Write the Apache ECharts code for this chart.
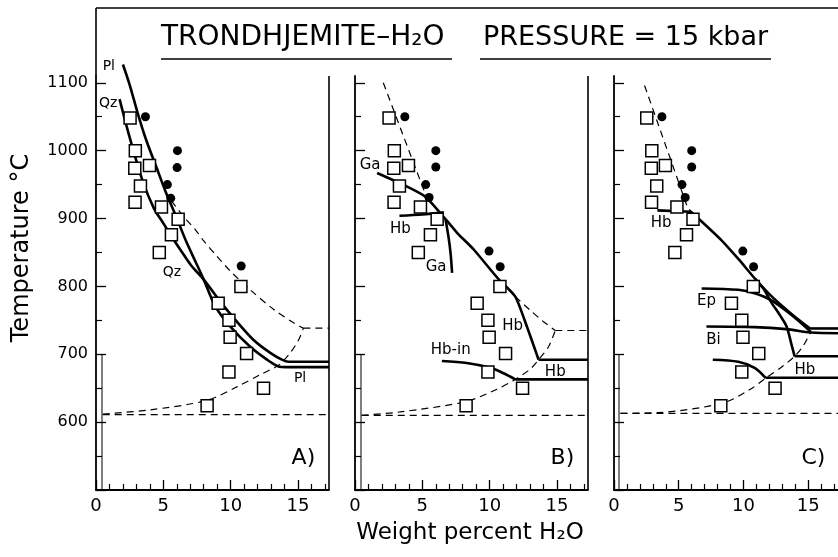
<!DOCTYPE html>
<html lang="en">
<head>
<meta charset="utf-8">
<title>Trondhjemite-H2O 15 kbar</title>
<script src="https://cdn.jsdelivr.net/npm/echarts@6/dist/echarts.min.js"></script>
<style>html,body{margin:0;padding:0;background:#fff}</style>
</head>
<body>
<div id="main" style="width:838px;height:557px;"></div>
<script>
// run results, same in all three panels (wt% H2O, deg C)
var squares = [[2.53,1048],[2.92,1000],[2.88,974],[3.97,978],[3.3,948],[2.9,924],[4.86,917],[6.1,899],
  [5.6,876],[4.7,850],[10.76,800],[9.07,775],[9.87,750],[9.96,725],[11.18,701],[9.87,674],[12.44,650],[8.25,624]];
var dotsA = [[3.67,1050],[6.05,1000],[6.02,975],[5.3,950],[5.55,930],[10.78,830]];
var dotsBC = [[3.7,1050],[6.0,1000],[6.0,976],[5.25,950],[5.5,931],[9.95,852],[10.78,829]];

// A) solid curves
var plA = [[2.0,1127],[2.5,1097],[3.1,1055],[3.72,1016],[4.46,977],[5.2,938],[5.95,903],[6.7,866],[7.4,836],
  [8.0,810],[8.85,771],[9.96,741],[11.45,711],[12.7,692],[13.55,682],[14.1,681],[17.3,681]];
var qzA = [[1.75,1076],[2.48,1021],[3.47,955],[4.3,915],[5.0,893],[5.6,874],[6.3,853],[7.1,830],[8.0,810],
  [9.22,778],[10.33,751],[11.7,721],[12.94,702],[13.8,692],[14.3,689],[17.3,689]];
// A) dashed curves
var vapA = [[5.6,926],[6.5,903],[7.4,883],[8.0,867],[9.0,844],[10.0,822],[11.45,795],[13.2,766],[14.7,746],[15.4,738.5]];
var vapTailA = [[15.4,738.5],[17.3,738.5]];
var solA = [[0.5,612],[4.0,618],[8.23,632],[10.46,652],[12.2,670],[13.56,684],[14.42,702],[15.04,721],[15.4,738.5]];
var baseA = [[0.5,611],[17.3,611]];

// B) solid curves
var mainB = [[1.64,967],[3.87,947],[5.23,932],[6.72,899],[7.58,879],[8.83,854],[10.6,812],[11.9,785],[12.76,741],[13.63,692]];
var mainTailB = [[13.63,692],[17.3,692]];
var hbShortB = [[3.3,904],[5.0,906],[6.6,909]];
var gaB = [[6.72,899],[6.95,872],[7.1,848],[7.21,820]];
var hbInB = [[6.45,690],[8.3,687],[10.04,680],[11.03,672],[11.9,663]];
var hbInTailB = [[11.9,663],[17.3,663]];
// B) dashed curves
var steepB = [[2.1,1100],[5.3,932]];
var vapB = [[11.9,785],[13.0,765],[14.0,748],[14.87,735]];
var vapTailB = [[14.87,735],[17.3,735]];
var solB = [[0.5,610],[3.35,615],[8.18,630],[10.5,648],[11.9,663],[13.0,678],[13.63,692],[14.37,711],[14.87,735]];
var baseB = [[0.5,610],[17.3,610]];

// C) solid curves
var hbShortC = [[3.35,912],[5.95,910]];
var mainC = [[5.95,910],[8.25,869],[9.67,839],[10.86,812],[12.3,783],[13.8,758],[15.2,737]];
var mainTailC = [[15.2,738],[17.3,738]];
var hbC = [[10.9,811],[11.6,795],[12.1,778],[12.8,758],[13.33,741],[13.7,715],[13.95,697]];
var hbTailC = [[13.95,697],[17.3,697]];
var epC = [[6.77,797],[9.6,795],[10.86,790],[12.1,780],[13.83,756],[15.2,733]];
var biC = [[7.14,741],[10.86,740],[13.3,737],[15.2,732],[17.3,731]];
var hbInC = [[7.63,692],[9.6,689],[10.86,680],[11.72,665]];
var hbInTailC = [[11.72,665.5],[17.3,665.5]];
// C) dashed curves
var steepC = [[2.36,1096],[5.7,915],[6.0,910]];
var solC = [[0.5,613],[3.42,614],[8.38,628],[10.5,648],[11.72,665],[13.0,682],[13.95,697],[14.6,712],[15.2,733]];
var baseC = [[0.5,613],[17.3,613]];

// phase labels [x, T, text]
var labelsA = [[0.95,1124,'Pl'],[0.9,1069,'Qz'],[5.63,821,'Qz'],[15.15,665,'Pl']];
var labelsB = [[1.12,978,'Ga'],[3.37,885,'Hb'],[6.02,828,'Ga'],[11.7,741,'Hb'],[7.11,706,'Hb-in'],[14.87,674,'Hb']];
var labelsC = [[3.64,893,'Hb'],[7.14,779,'Ep'],[7.68,721,'Bi'],[14.74,677,'Hb']];
var panelNames = ['A)','B)','C)'];

var xMajor = [0,5,10,15];
var xMinor = [1,2,3,4,6,7,8,9,11,12,13,14,16,17];
var yMajor = [500,600,700,800,900,1000,1100];
var yLabels = [600,700,800,900,1000,1100];
var yMinor = [550,650,750,850,950,1050];

var X_MAX = 17.3, Y_MIN = 500, Y_MAX = 1110;
var font = 'DejaVu Sans, sans-serif';
var lefts = [96, 355, 614];

var myChart = echarts.init(document.getElementById('main'));

var grids = [], xAxes = [], yAxes = [], series = [];
for (var i = 0; i < 3; i++) {
  grids.push({left: lefts[i], top: 76, width: 233, height: 414});
  xAxes.push({
    type: 'value', gridIndex: i, position: 'bottom', min: 0, max: X_MAX,
    axisLine: {show: true, onZero: false, lineStyle: {color: '#000', width: 1.8}},
    axisTick: {show: true, inside: true, length: 10, customValues: xMajor, lineStyle: {color: '#000', width: 1.3}},
    axisLabel: {customValues: xMajor, color: '#000', fontSize: 18, fontFamily: font, margin: 7},
    splitLine: {show: false}
  });
  xAxes.push({
    type: 'value', gridIndex: i, position: 'bottom', offset: 0, min: 0, max: X_MAX,
    axisLine: {show: false},
    axisTick: {show: true, inside: true, length: 6, customValues: xMinor, lineStyle: {color: '#000', width: 1.2}},
    axisLabel: {show: false}, splitLine: {show: false}
  });
  yAxes.push({
    type: 'value', gridIndex: i, position: 'left', min: Y_MIN, max: Y_MAX,
    axisLine: {show: true, onZero: false, lineStyle: {color: '#000', width: 1.8}},
    axisTick: {show: true, inside: true, length: 10, customValues: yMajor, lineStyle: {color: '#000', width: 1.3}},
    axisLabel: {show: i === 0, customValues: yLabels, color: '#000', fontSize: 16, fontFamily: font, margin: 8,
      formatter: function (v) { return String(v); }},
    splitLine: {show: false}
  });
  yAxes.push({
    type: 'value', gridIndex: i, position: 'left', offset: 0, min: Y_MIN, max: Y_MAX,
    axisLine: {show: false},
    axisTick: {show: true, inside: true, length: 6, customValues: yMinor, lineStyle: {color: '#000', width: 1.2}},
    axisLabel: {show: false}, splitLine: {show: false}
  });
}

function curve(p, pts, dashed, smooth) {
  return {
    type: 'line', xAxisIndex: 2 * p, yAxisIndex: 2 * p, data: pts, showSymbol: false, silent: true,
    clip: false, smooth: smooth === undefined ? 0.3 : smooth, animation: false, z: 2,
    lineStyle: {color: '#000', width: dashed ? 1.2 : 2.6, type: dashed ? [7, 5] : 'solid'}
  };
}
function marks(p, dots) {
  series.push({
    type: 'scatter', xAxisIndex: 2 * p, yAxisIndex: 2 * p, data: squares, symbol: 'rect', symbolSize: 12,
    silent: true, z: 4, itemStyle: {color: '#fff', borderColor: '#000', borderWidth: 1.5, opacity: 1}
  });
  series.push({
    type: 'scatter', xAxisIndex: 2 * p, yAxisIndex: 2 * p, data: dots, symbol: 'circle', symbolSize: 9,
    silent: true, z: 5, itemStyle: {color: '#000', opacity: 1}
  });
}
function texts(p, arr, size) {
  series.push({
    type: 'scatter', xAxisIndex: 2 * p, yAxisIndex: 2 * p, silent: true, z: 6, symbolSize: 1, clip: false,
    itemStyle: {color: 'rgba(0,0,0,0)', opacity: 1},
    data: arr.map(function (d) { return {value: [d[0], d[1]], name: d[2]}; }),
    label: {show: true, position: 'inside', formatter: '{b}', color: '#000', opacity: 1, fontSize: size, fontFamily: font}
  });
}

// panel A
[plA, qzA].forEach(function (c) { series.push(curve(0, c, false)); });
series.push(curve(0, vapA, true), curve(0, vapTailA, true, false), curve(0, solA, true), curve(0, baseA, true, false));
marks(0, dotsA);
texts(0, labelsA, 14);

// panel B
series.push(curve(1, mainB, false, 0.2), curve(1, mainTailB, false, false), curve(1, hbShortB, false),
  curve(1, gaB, false), curve(1, hbInB, false), curve(1, hbInTailB, false, false));
series.push(curve(1, steepB, true, false), curve(1, vapB, true), curve(1, vapTailB, true, false),
  curve(1, solB, true), curve(1, baseB, true, false));
marks(1, dotsBC);
texts(1, labelsB, 15);

// panel C
series.push(curve(2, hbShortC, false, false), curve(2, mainC, false, 0.2), curve(2, mainTailC, false, false),
  curve(2, hbC, false), curve(2, hbTailC, false, false), curve(2, epC, false), curve(2, biC, false),
  curve(2, hbInC, false), curve(2, hbInTailC, false, false));
series.push(curve(2, steepC, true, false), curve(2, solC, true), curve(2, baseC, true, false));
marks(2, dotsBC);
texts(2, labelsC, 15);

// panel letters
for (var k = 0; k < 3; k++) texts(k, [[15.4, 546, panelNames[k]]], 22);

var ln = {stroke: '#000', lineWidth: 1.6};
var option = {
  animation: false,
  grid: grids, xAxis: xAxes, yAxis: yAxes, series: series,
  graphic: [
    {type: 'line', shape: {x1: 96, y1: 8, x2: 838, y2: 8}, style: ln},
    {type: 'line', shape: {x1: 96, y1: 8, x2: 96, y2: 76}, style: ln},
    {type: 'line', shape: {x1: 329, y1: 76, x2: 329, y2: 490}, style: ln},
    {type: 'line', shape: {x1: 588, y1: 76, x2: 588, y2: 490}, style: ln},
    {type: 'line', shape: {x1: 102, y1: 355, x2: 102, y2: 490}, style: {stroke: '#000', lineWidth: 1}},
    {type: 'line', shape: {x1: 361, y1: 355, x2: 361, y2: 490}, style: {stroke: '#000', lineWidth: 1}},
    {type: 'line', shape: {x1: 619, y1: 355, x2: 619, y2: 490}, style: {stroke: '#000', lineWidth: 1}},
    {type: 'text', x: 161, y: 38, style: {text: 'TRONDHJEMITE\u2013H\u2082O', fontSize: 28, fontFamily: font, fill: '#000', verticalAlign: 'middle'}},
    {type: 'text', x: 483, y: 38, style: {text: 'PRESSURE = 15 kbar', fontSize: 27, fontFamily: font, fill: '#000', verticalAlign: 'middle'}},
    {type: 'line', shape: {x1: 161, y1: 59, x2: 452, y2: 59}, style: ln},
    {type: 'line', shape: {x1: 480, y1: 59, x2: 771, y2: 59}, style: ln},
    {type: 'text', x: 22, y: 248, rotation: Math.PI / 2, style: {text: 'Temperature \u00B0C', fontSize: 24, fontFamily: font, fill: '#000', align: 'center', verticalAlign: 'middle'}},
    {type: 'text', x: 470, y: 533, style: {text: 'Weight percent H\u2082O', fontSize: 23, fontFamily: font, fill: '#000', align: 'center', verticalAlign: 'middle'}}
  ]
};
myChart.setOption(option);
</script>
</body>
</html>
